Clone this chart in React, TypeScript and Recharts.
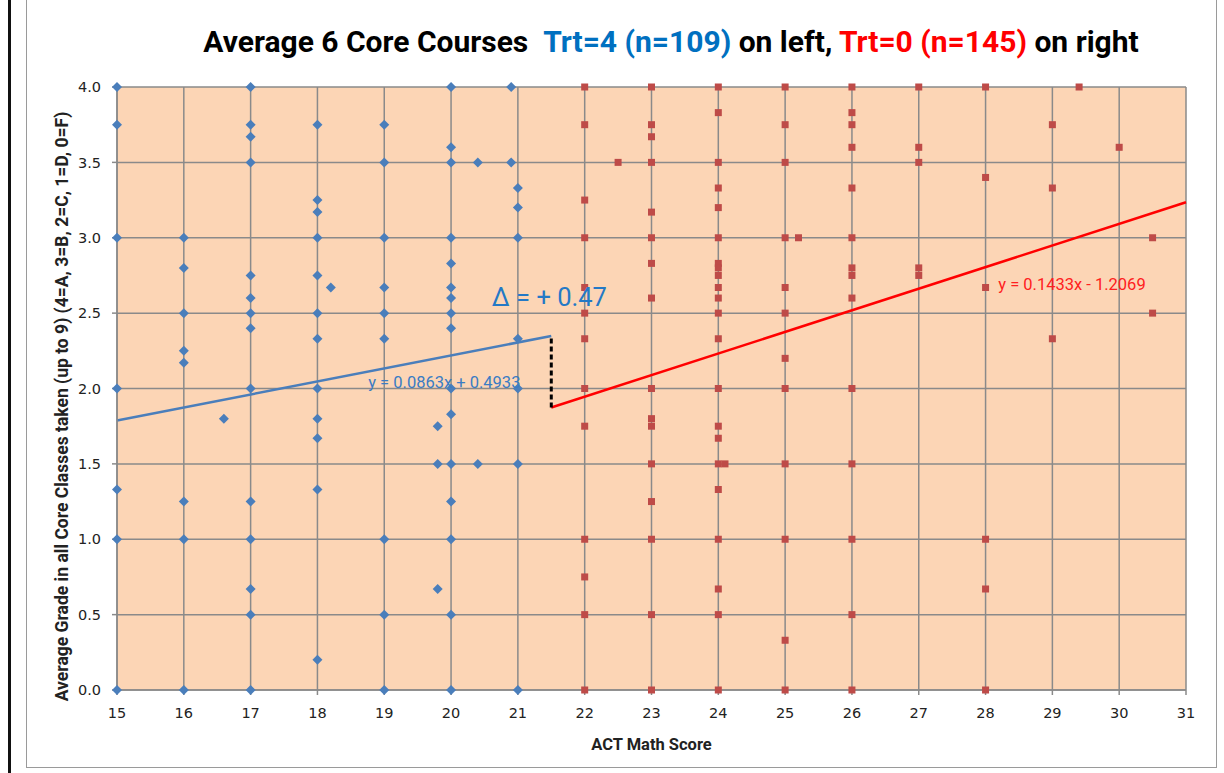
import {
	CartesianGrid,
	Label,
	ReferenceDot,
	ReferenceLine,
	Scatter,
	ScatterChart,
	XAxis,
	YAxis,
} from "recharts";

// ACT math score -> grades observed at that score
const trt4Scores = [15, 16, 16.6, 17, 18, 18.2, 19, 19.8, 20, 20.4, 20.9, 21];
const trt4Grades = [
	[4.0, 3.75, 3.0, 2.0, 1.33, 1.0, 0],
	[3.0, 2.8, 2.5, 2.25, 2.17, 1.25, 1.0, 0],
	[1.8],
	[4.0, 3.75, 3.67, 3.5, 2.75, 2.6, 2.5, 2.4, 2.0, 1.25, 1.0, 0.67, 0.5, 0],
	[3.75, 3.25, 3.17, 3.0, 2.75, 2.5, 2.33, 2.0, 1.8, 1.67, 1.33, 0.2],
	[2.67],
	[3.75, 3.5, 3.0, 2.67, 2.5, 2.33, 1.0, 0.5, 0],
	[1.75, 1.5, 0.67],
	[4.0, 3.6, 3.5, 3.0, 2.83, 2.67, 2.6, 2.5, 2.4, 2.0, 1.83, 1.5, 1.25, 1.0, 0.5, 0],
	[3.5, 1.5],
	[4.0, 3.5],
	[3.33, 3.2, 3.0, 2.33, 2.0, 1.5, 0],
];

const trt0Scores = [22, 22.5, 23, 24, 24.1, 25, 25.2, 26, 27, 28, 29, 29.4, 30, 30.5];
const trt0Grades = [
	[4.0, 3.75, 3.25, 3.0, 2.67, 2.5, 2.33, 2.0, 1.75, 1.0, 0.75, 0.5, 0],
	[3.5],
	[4.0, 3.75, 3.67, 3.5, 3.17, 3.0, 2.83, 2.6, 2.0, 1.8, 1.75, 1.5, 1.25, 1.0, 0.5, 0],
	[4.0, 3.83, 3.5, 3.33, 3.2, 3.0, 2.83, 2.8, 2.75, 2.67, 2.6, 2.5, 2.33, 2.0, 1.75, 1.67, 1.5, 1.33, 1.0, 0.67, 0.5, 0],
	[1.5],
	[4.0, 3.75, 3.5, 3.0, 2.67, 2.5, 2.2, 2.0, 1.5, 1.0, 0.33, 0],
	[3.0],
	[4.0, 3.83, 3.75, 3.6, 3.33, 3.0, 2.8, 2.75, 2.6, 2.0, 1.5, 1.0, 0.5, 0],
	[4.0, 3.6, 3.5, 2.8, 2.75],
	[4.0, 3.4, 2.67, 1.0, 0.67, 0],
	[3.75, 3.33, 2.33],
	[4.0],
	[3.6],
	[3.0, 2.5],
];

const xTicks = [15, 16, 17, 18, 19, 20, 21, 22, 23, 24, 25, 26, 27, 28, 29, 30, 31];
const yTicks = [0, 0.5, 1, 1.5, 2, 2.5, 3, 3.5, 4];

// Excel linear trendlines
const trt4Fit = { slope: 0.0863, intercept: 0.4933, from: 15, to: 21.5 };
const trt0Fit = { slope: 0.1433, intercept: -1.2069, from: 21.5, to: 31 };

const toPoints = (scores: number[], grades: number[][]) =>
	scores.flatMap((x, i) => grades[i].map((y) => ({ x, y })));

const fitAt = (fit: typeof trt4Fit, x: number) => fit.slope * x + fit.intercept;

const trt4Data = toPoints(trt4Scores, trt4Grades);
const trt0Data = toPoints(trt0Scores, trt0Grades);

const BLUE = "#4A7EBB";
const RED_MARK = "#BE4B48";
const GRID = "#8A8A8A";

// biome-ignore lint/suspicious/noExplicitAny: <recharts shape props>
const Diamond = (p: any) => (
	<polygon
		points={`${p.cx},${p.cy - 5} ${p.cx + 5},${p.cy} ${p.cx},${p.cy + 5} ${p.cx - 5},${p.cy}`}
		fill={BLUE}
	/>
);

// biome-ignore lint/suspicious/noExplicitAny: <recharts shape props>
const Square = (p: any) => (
	<rect x={p.cx - 3.5} y={p.cy - 3.5} width={7} height={7} fill={RED_MARK} />
);

// biome-ignore lint/suspicious/noExplicitAny: <label props>
const YTitle = ({ viewBox }: any) => {
	const x = viewBox.x + 62;
	const y = viewBox.y + viewBox.height / 2 + 18;
	return (
		<text
			x={x}
			y={y}
			transform={`rotate(-90, ${x}, ${y})`}
			textAnchor="middle"
			dominantBaseline="central"
			fontFamily="Roboto, sans-serif"
			fontWeight="bold"
			fontSize={17.5}
			fill="#222"
		>
			Average Grade in all Core Classes taken (up to 9) (4=A, 3=B, 2=C, 1=D, 0=F)
		</text>
	);
};

const tickStyle = { fontFamily: "'DejaVu Sans', sans-serif", fontSize: 14.5, fill: "#222" };

export default function App() {
	return (
		<div
			style={{
				position: "absolute",
				left: 0,
				top: 0,
				width: 1224,
				height: 773,
				background: "#fff",
				overflow: "hidden",
			}}
		>
			<div style={{ position: "absolute", left: 8, top: 0, width: 3, height: 773, background: "#111" }} />
			<div
				style={{
					position: "absolute",
					left: 26,
					top: -2,
					width: 1191,
					height: 770,
					border: "1px solid #9a9a9a",
					boxSizing: "border-box",
				}}
			/>
			<div
				style={{
					position: "absolute",
					left: 0,
					top: 24,
					width: 1342,
					textAlign: "center",
					fontFamily: "Roboto, sans-serif",
					fontWeight: "bold",
					fontSize: 30,
					whiteSpace: "nowrap",
					color: "#000",
				}}
			>
				Average 6 Core Courses&nbsp;&nbsp;
				<span style={{ color: "#0070C0" }}>Trt=4 (n=109)</span> on left,{" "}
				<span style={{ color: "#FF0000" }}>Trt=0 (n=145)</span> on right
			</div>
			<ScatterChart
				width={1224}
				height={773}
				margin={{ top: 87, right: 38, bottom: 0, left: 0 }}
				style={{ position: "absolute", left: 0, top: 0 }}
			>
				<CartesianGrid fill="#FCD5B5" stroke={GRID} strokeWidth={1.5} />
				<XAxis
					type="number"
					dataKey="x"
					domain={[15, 31]}
					ticks={xTicks}
					height={83}
					stroke={GRID}
					strokeWidth={1.5}
					tickSize={5}
					tickMargin={13}
					tick={tickStyle}
				>
					<Label
						value="ACT Math Score"
						position="insideBottom"
						offset={23}
						style={{ fontFamily: "Roboto, sans-serif", fontWeight: "bold", fontSize: 16.5, fill: "#222" }}
					/>
				</XAxis>
				<YAxis
					type="number"
					dataKey="y"
					domain={[0, 4]}
					ticks={yTicks}
					width={117}
					stroke={GRID}
					strokeWidth={1.5}
					tickSize={5}
					tickMargin={11}
					tick={tickStyle}
					tickFormatter={(v: number) => v.toFixed(1)}
				>
					<Label content={<YTitle />} />
				</YAxis>
				<Scatter data={trt4Data} shape={<Diamond />} isAnimationActive={false} />
				<Scatter data={trt0Data} shape={<Square />} isAnimationActive={false} />
				<ReferenceLine
					segment={[
						{ x: trt4Fit.from, y: fitAt(trt4Fit, trt4Fit.from) },
						{ x: trt4Fit.to, y: fitAt(trt4Fit, trt4Fit.to) },
					]}
					stroke={BLUE}
					strokeWidth={2.5}
				/>
				<ReferenceLine
					segment={[
						{ x: trt0Fit.from, y: fitAt(trt0Fit, trt0Fit.from) },
						{ x: trt0Fit.to, y: fitAt(trt0Fit, trt0Fit.to) },
					]}
					stroke="#FF0000"
					strokeWidth={2.5}
				/>
				<ReferenceLine
					segment={[
						{ x: 21.5, y: fitAt(trt0Fit, 21.5) },
						{ x: 21.5, y: fitAt(trt4Fit, 21.5) },
					]}
					stroke="#000"
					strokeWidth={3}
					strokeDasharray="5 3"
				/>
				<ReferenceDot x={20.61} y={2.61} r={0} stroke="none" fill="none">
					<Label
						value="Δ = + 0.47"
						position="right"
						offset={0}
						style={{ fontFamily: "Roboto, sans-serif", fontSize: 25.5, fill: "#2479C6" }}
					/>
				</ReferenceDot>
				<ReferenceDot x={18.76} y={2.04} r={0} stroke="none" fill="none">
					<Label
						value="y = 0.0863x + 0.4933"
						position="right"
						offset={0}
						style={{ fontFamily: "Roboto, sans-serif", fontSize: 16.5, fill: "#3A7CC4" }}
					/>
				</ReferenceDot>
				<ReferenceDot x={28.19} y={2.69} r={0} stroke="none" fill="none">
					<Label
						value="y = 0.1433x - 1.2069"
						position="right"
						offset={0}
						style={{ fontFamily: "Roboto, sans-serif", fontSize: 16.5, fill: "#FF2020" }}
					/>
				</ReferenceDot>
			</ScatterChart>
		</div>
	);
}
